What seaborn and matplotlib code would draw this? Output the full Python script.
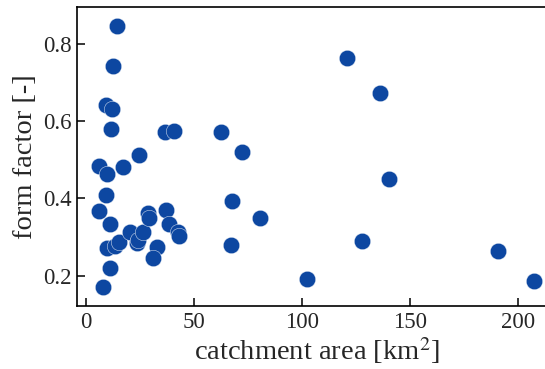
import matplotlib
matplotlib.use("Agg")
import matplotlib.pyplot as plt
import seaborn as sns
import pandas as pd

area = [14.2, 12.7, 9.1, 12.2, 11.4, 6.2, 9.6, 17.0, 24.7, 36.8, 41.0, 62.5, 72.3,
        9.1, 6.0, 11.1, 9.9, 11.1, 8.0, 13.5, 15.4, 20.4, 23.5, 24.3, 26.6,
        28.9, 29.3, 32.8, 31.2, 37.1, 38.5, 42.5, 43.0, 67.6, 67.1, 80.7,
        121.0, 136.2, 140.5, 128.0, 102.5, 190.7, 207.7]
form_factor = [0.847, 0.744, 0.643, 0.632, 0.580, 0.485, 0.464, 0.482, 0.514, 0.572, 0.575, 0.572, 0.520,
               0.409, 0.368, 0.333, 0.271, 0.220, 0.171, 0.277, 0.288, 0.314, 0.284, 0.292, 0.314,
               0.363, 0.350, 0.275, 0.245, 0.369, 0.334, 0.314, 0.303, 0.393, 0.279, 0.350,
               0.764, 0.673, 0.451, 0.289, 0.191, 0.263, 0.187]

df = pd.DataFrame({"area": area, "ff": form_factor})

sns.set_style("ticks")
plt.rcParams["font.family"] = ["Liberation Serif", "DejaVu Serif"]
plt.rcParams["mathtext.fontset"] = "stix"

fig = plt.figure(figsize=(5.45, 3.69), dpi=100)
ax = fig.add_axes([77.3 / 545, 63 / 369, (556 - 77.3) / 545, (306 - 6.7) / 369])

sns.scatterplot(data=df, x="area", y="ff", ax=ax, color="#0d47a1", s=140,
                edgecolor="white", linewidth=0.3, zorder=3)

ax.set_xlim(-4.0, 217.8)
ax.set_ylim(0.121, 0.8975)
ax.set_xticks([0, 50, 100, 150, 200])
ax.set_yticks([0.2, 0.4, 0.6, 0.8])
ax.set_yticklabels(["0.2", "0.4", "0.6", "0.8"])
ax.tick_params(direction="in", length=6, width=1.3, labelsize=16.5, top=False, right=False, pad=4)
for sp in ax.spines.values():
    sp.set_linewidth(1.2)
    sp.set_color("black")
ax.set_xlabel("catchment area [km$^2$]", fontsize=20.5, labelpad=2)
ax.set_ylabel("form factor [-]", fontsize=20.5, labelpad=4)

fig.savefig("out.png", dpi=100)
